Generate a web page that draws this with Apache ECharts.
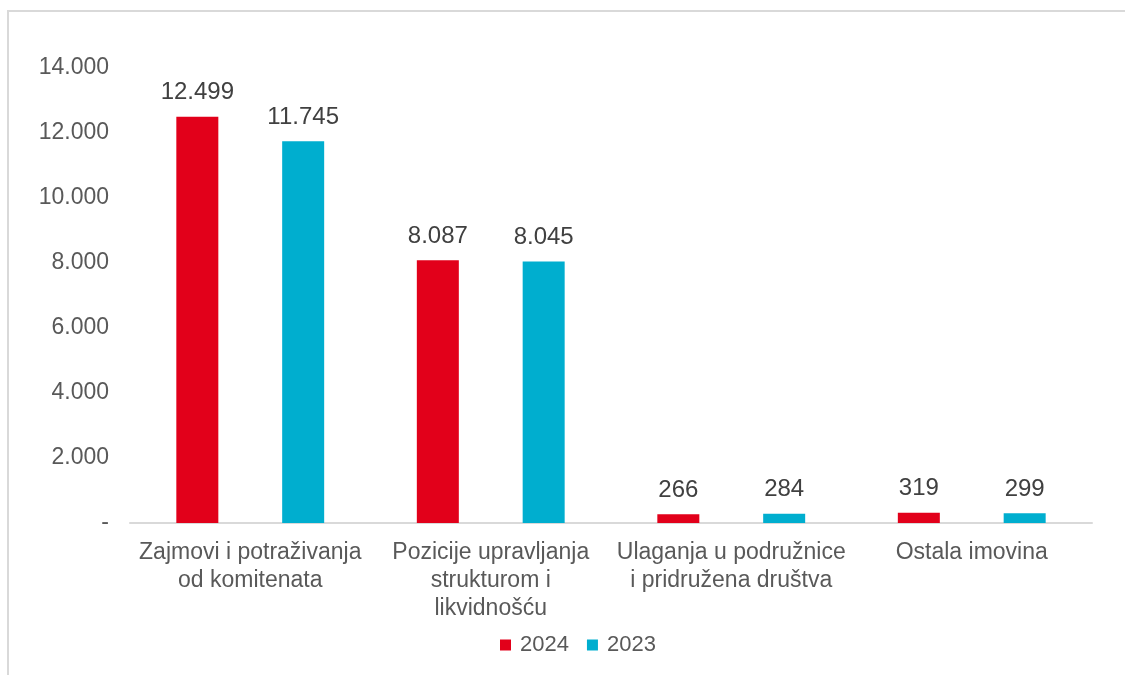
<!DOCTYPE html>
<html><head><meta charset="utf-8">
<script src="https://cdn.jsdelivr.net/npm/echarts@6/dist/echarts.min.js"></script>
<style>html,body{margin:0;padding:0;background:#fff}#frame{position:absolute;left:7px;top:10px;width:1130px;height:680px;border:2px solid #d9d9d9;box-sizing:border-box}#c{position:absolute;left:0;top:0;width:1125px;height:675px}</style>
</head><body><div id="frame"></div><div id="c"></div>
<script>
const categories = ['Zajmovi i potraživanja\nod komitenata', 'Pozicije upravljanja\nstrukturom i\nlikvidnošću', 'Ulaganja u podružnice\ni pridružena društva', 'Ostala imovina'];
const values2024 = [12499, 8087, 266, 319];
const values2023 = [11745, 8045, 284, 299];
const seriesNames = ['2024', '2023'];
function fmt(v){ if(v===0) return '-'; return String(v).replace(/\B(?=(\d{3})+(?!\d))/g,'.'); }
const chart = echarts.init(document.getElementById('c'));
const font = 'Arial, "Liberation Sans", sans-serif';
const txt = '#595959';
chart.setOption({
  animation:false,
  textStyle:{fontFamily:font},
  grid:{left:130,right:33,top:68,bottom:152},
  legend:{bottom:14,left:495,itemWidth:11,itemHeight:11,itemGap:18,icon:'rect',
    textStyle:{color:txt,fontSize:22,fontFamily:font,padding:[0,0,0,4]},data:seriesNames},
  xAxis:{type:'category',data:categories,
    axisLine:{lineStyle:{color:'#d9d9d9',width:2}},axisTick:{show:false},
    axisLabel:{color:txt,fontSize:23,lineHeight:28,margin:16,fontFamily:font,interval:0}},
  yAxis:{type:'value',min:0,max:14000,interval:2000,
    splitLine:{show:false},axisLine:{show:false},axisTick:{show:false},
    axisLabel:{color:txt,fontSize:23,margin:21,fontFamily:font,formatter:fmt}},
  series:[
    {name:seriesNames[0],type:'bar',data:values2024,barWidth:42,barGap:'152%',
     itemStyle:{color:'#E2001A'},
     label:{show:true,position:'top',distance:12,color:'#404040',fontSize:24,fontFamily:font,formatter:p=>fmt(p.value)}},
    {name:seriesNames[1],type:'bar',data:values2023,barWidth:42,
     itemStyle:{color:'#00AECF'},
     label:{show:true,position:'top',distance:12,color:'#404040',fontSize:24,fontFamily:font,formatter:p=>fmt(p.value)}}
  ]
});
</script></body></html>
